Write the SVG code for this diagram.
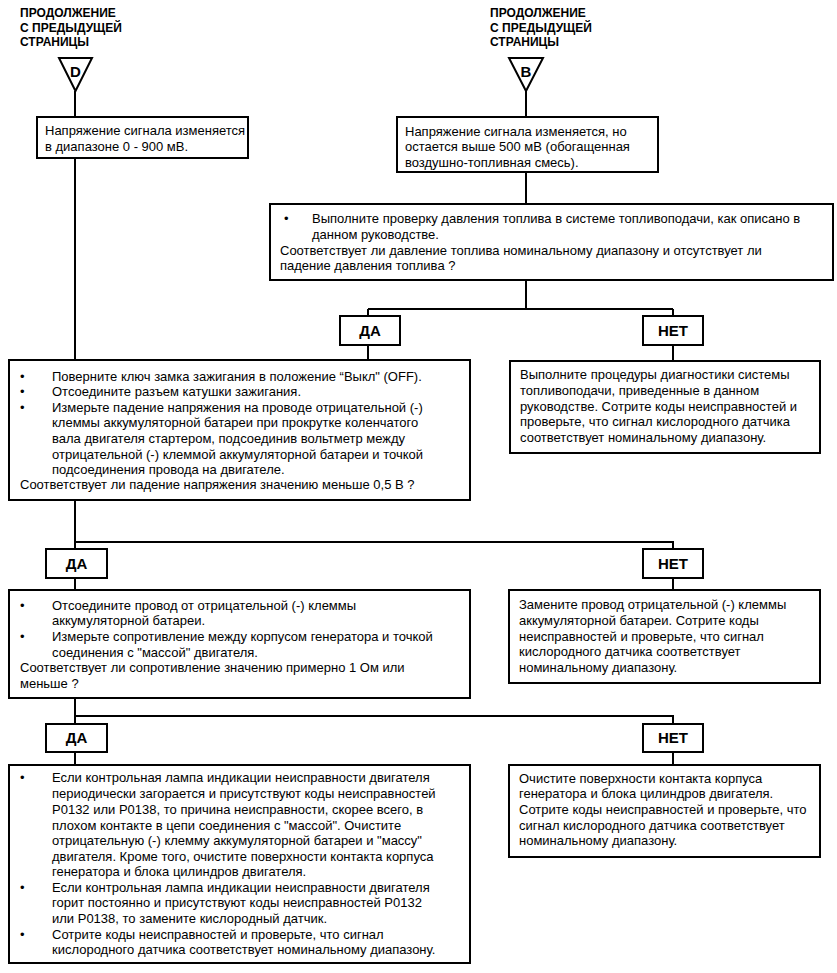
<svg xmlns="http://www.w3.org/2000/svg" width="837" height="973" viewBox="0 0 837 973">
<style>
.bg{fill:#fff}
.box{fill:#fff;stroke:#000;stroke-width:2}
.ln{fill:none;stroke:#000;stroke-width:2}
.t{font-family:"Liberation Sans",Arial,sans-serif;font-size:13px;fill:#000}
.h{font-family:"Liberation Sans",Arial,sans-serif;font-size:12px;font-weight:bold;fill:#000}
.lab{font-family:"Liberation Sans",Arial,sans-serif;font-size:15px;font-weight:bold;fill:#000;text-anchor:middle}
</style>
<rect class="bg" x="0" y="0" width="837" height="973"/>
<g id="connectors">
<path class="ln" d="M75 91V117M75 158V360M526 91V117M526 172V204M526 280V309M368 309H673M368 309V316M368 345V360M673 309V316M673 345V361"/>
<path class="ln" d="M75 500V549M75 542H673V549M75 578V590M673 578V590"/>
<path class="ln" d="M75 698V724M75 716H673V724M75 752V765M673 752V765"/>
</g>
<g id="title-d"><text class="h" x="20" y="17">ПРОДОЛЖЕНИЕ</text><text class="h" x="20" y="31.5">С ПРЕДЫДУЩЕЙ</text><text class="h" x="20" y="46">СТРАНИЦЫ</text></g>
<g id="conn-d"><polygon class="box" points="59,58 92,58 75.5,91"/><text class="lab" x="75.5" y="77">D</text></g>
<g id="title-b"><text class="h" x="490" y="17">ПРОДОЛЖЕНИЕ</text><text class="h" x="490" y="31.5">С ПРЕДЫДУЩЕЙ</text><text class="h" x="490" y="46">СТРАНИЦЫ</text></g>
<g id="conn-b"><polygon class="box" points="509,58 543,58 526,91"/><text class="lab" x="526" y="77">B</text></g>
<g id="box1"><rect class="box" x="37" y="117" width="211" height="41"/>
<text class="t" x="45" y="135">Напряжение сигнала изменяется</text>
<text class="t" x="45" y="151">в диапазоне 0 - 900 мВ.</text></g>
<g id="boxB"><rect class="box" x="397" y="117" width="261" height="55"/>
<text class="t" x="405" y="136">Напряжение сигнала изменяется, но</text>
<text class="t" x="405" y="151">остается выше 500 мВ (обогащенная</text>
<text class="t" x="405" y="167">воздушно-топливная смесь).</text></g>
<g id="fuel"><rect class="box" x="270" y="204" width="563" height="76"/>
<text class="t" x="284" y="223">•</text>
<text class="t" x="312" y="223">Выполните проверку давления топлива в системе топливоподачи, как описано в</text>
<text class="t" x="312" y="239">данном руководстве.</text>
<text class="t" x="280" y="255">Соответствует ли давление топлива номинальному диапазону и отсутствует ли</text>
<text class="t" x="280" y="270">падение давления топлива ?</text></g>
<g id="yes1"><rect class="box" x="340" y="316" width="60" height="29"/><text class="lab" x="370" y="336">ДА</text></g>
<g id="no1"><rect class="box" x="643" y="316" width="60" height="29"/><text class="lab" x="673" y="336">НЕТ</text></g>
<g id="res1"><rect class="box" x="510" y="361" width="310" height="92"/>
<text class="t" x="520" y="379">Выполните процедуры диагностики системы</text>
<text class="t" x="520" y="395">топливоподачи, приведенные в данном</text>
<text class="t" x="520" y="411">руководстве. Сотрите коды неисправностей и</text>
<text class="t" x="520" y="426">проверьте, что сигнал кислородного датчика</text>
<text class="t" x="520" y="442">соответствует номинальному диапазону.</text></g>
<g id="box3"><rect class="box" x="9" y="360" width="461" height="140"/>
<text class="t" x="20" y="381">•</text><text class="t" x="52" y="381">Поверните ключ замка зажигания в положение “Выкл" (OFF).</text>
<text class="t" x="20" y="396">•</text><text class="t" x="52" y="396">Отсоедините разъем катушки зажигания.</text>
<text class="t" x="20" y="412">•</text><text class="t" x="52" y="412">Измерьте падение напряжения на проводе отрицательной (-)</text>
<text class="t" x="52" y="427">клеммы аккумуляторной батареи при прокрутке коленчатого</text>
<text class="t" x="52" y="443">вала двигателя стартером, подсоединив вольтметр между</text>
<text class="t" x="52" y="459">отрицательной (-) клеммой аккумуляторной батареи и точкой</text>
<text class="t" x="52" y="474">подсоединения провода на двигателе.</text>
<text class="t" x="20" y="489">Соответствует ли падение напряжения значению меньше 0,5 В ?</text></g>
<g id="yes2"><rect class="box" x="46" y="549" width="61" height="29"/><text class="lab" x="76.5" y="569">ДА</text></g>
<g id="no2"><rect class="box" x="643" y="549" width="60" height="29"/><text class="lab" x="673" y="569">НЕТ</text></g>
<g id="box4"><rect class="box" x="9" y="590" width="461" height="108"/>
<text class="t" x="20" y="610">•</text><text class="t" x="52" y="610">Отсоедините провод от отрицательной (-) клеммы</text>
<text class="t" x="52" y="625">аккумуляторной батареи.</text>
<text class="t" x="20" y="641">•</text><text class="t" x="52" y="641">Измерьте сопротивление между корпусом генератора и точкой</text>
<text class="t" x="52" y="657">соединения с "массой" двигателя.</text>
<text class="t" x="20" y="672">Соответствует ли сопротивление значению примерно 1 Ом или</text>
<text class="t" x="20" y="688">меньше ?</text></g>
<g id="res2"><rect class="box" x="509" y="590" width="311" height="93"/>
<text class="t" x="519" y="609">Замените провод отрицательной (-) клеммы</text>
<text class="t" x="519" y="625">аккумуляторной батареи. Сотрите коды</text>
<text class="t" x="519" y="641">неисправностей и проверьте, что сигнал</text>
<text class="t" x="519" y="656">кислородного датчика соответствует</text>
<text class="t" x="519" y="672">номинальному диапазону.</text></g>
<g id="yes3"><rect class="box" x="46" y="724" width="61" height="28"/><text class="lab" x="76.5" y="743">ДА</text></g>
<g id="no3"><rect class="box" x="643" y="724" width="60" height="28"/><text class="lab" x="673" y="743">НЕТ</text></g>
<g id="box5"><rect class="box" x="9" y="765" width="461" height="198"/>
<text class="t" x="20" y="782">•</text><text class="t" x="52" y="782">Если контрольная лампа индикации неисправности двигателя</text>
<text class="t" x="52" y="798">периодически загорается и присутствуют коды неисправностей</text>
<text class="t" x="52" y="814">P0132 или P0138, то причина неисправности, скорее всего, в</text>
<text class="t" x="52" y="830">плохом контакте в цепи соединения с "массой". Очистите</text>
<text class="t" x="52" y="845">отрицательную (-) клемму аккумуляторной батареи и "массу"</text>
<text class="t" x="52" y="861">двигателя. Кроме того, очистите поверхности контакта корпуса</text>
<text class="t" x="52" y="876">генератора и блока цилиндров двигателя.</text>
<text class="t" x="20" y="892">•</text><text class="t" x="52" y="892">Если контрольная лампа индикации неисправности двигателя</text>
<text class="t" x="52" y="907">горит постоянно и присутствуют коды неисправностей P0132</text>
<text class="t" x="52" y="923">или P0138, то замените кислородный датчик.</text>
<text class="t" x="20" y="939">•</text><text class="t" x="52" y="939">Сотрите коды неисправностей и проверьте, что сигнал</text>
<text class="t" x="52" y="954">кислородного датчика соответствует номинальному диапазону.</text></g>
<g id="res3"><rect class="box" x="509" y="765" width="311" height="92"/>
<text class="t" x="519" y="783">Очистите поверхности контакта корпуса</text>
<text class="t" x="519" y="798">генератора и блока цилиндров двигателя.</text>
<text class="t" x="519" y="814">Сотрите коды неисправностей и проверьте, что</text>
<text class="t" x="519" y="830">сигнал кислородного датчика соответствует</text>
<text class="t" x="519" y="845">номинальному диапазону.</text></g>
</svg>
